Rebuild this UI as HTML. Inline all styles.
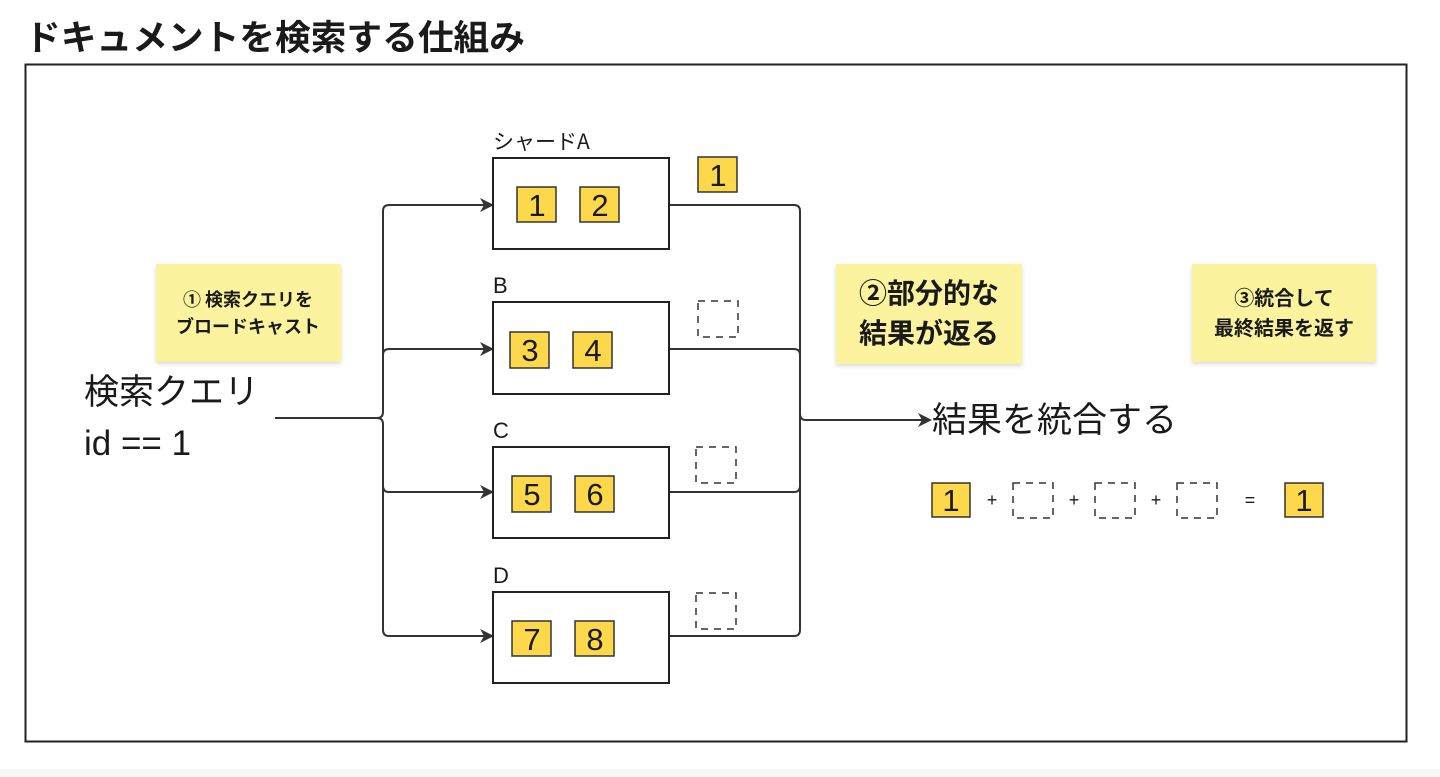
<!DOCTYPE html>
<html><head><meta charset="utf-8"><style>
html,body{margin:0;padding:0;background:#fff;}
svg{display:block;}
text{font-family:"Liberation Sans","Noto Sans CJK JP",sans-serif;fill:#1a1a1a;}
.jp{font-family:"Noto Sans CJK JP","Liberation Sans",sans-serif;}
</style></head><body>
<svg width="1440" height="777" viewBox="0 0 1440 777" xmlns="http://www.w3.org/2000/svg">
<defs>
<filter id="sh" x="-10%" y="-10%" width="120%" height="130%"><feDropShadow dx="0" dy="2" stdDeviation="2" flood-color="#000" flood-opacity="0.15"/></filter>
</defs>
<rect x="0" y="769" width="1440" height="8" fill="#f7f7f7"/>
<text class="jp" x="25" y="50" font-size="35" font-weight="bold" textLength="500" lengthAdjust="spacingAndGlyphs">ドキュメントを検索する仕組み</text>
<rect x="25.5" y="64.5" width="1381" height="677" fill="none" stroke="#222" stroke-width="2"/>

<!-- stickies -->
<rect x="156" y="264" width="185" height="98" fill="#fbf39e" filter="url(#sh)"/>
<text class="jp" x="248" y="306" font-size="18" font-weight="bold" text-anchor="middle">① 検索クエリを</text>
<text class="jp" x="248" y="333" font-size="18" font-weight="bold" text-anchor="middle">ブロードキャスト</text>
<rect x="836" y="264" width="186" height="100" fill="#fbf39e" filter="url(#sh)"/>
<text class="jp" x="929" y="303" font-size="28" font-weight="bold" text-anchor="middle">②部分的な</text>
<text class="jp" x="929" y="343" font-size="28" font-weight="bold" text-anchor="middle">結果が返る</text>
<rect x="1192" y="264" width="184" height="98" fill="#fbf39e" filter="url(#sh)"/>
<text class="jp" x="1284" y="305" font-size="20" font-weight="bold" text-anchor="middle">③統合して</text>
<text class="jp" x="1284" y="335" font-size="20" font-weight="bold" text-anchor="middle">最終結果を返す</text>

<!-- query -->
<text class="jp" x="84" y="404" font-size="35">検索クエリ</text>
<text x="84" y="455" font-size="35">id == 1</text>

<!-- connectors -->
<g fill="none" stroke="#333" stroke-width="2">
<path d="M275,418 H377 Q383,418 383,412 V211 Q383,205 389,205 H484"/>
<path d="M383,355 Q383,349 389,349 H484"/>
<path d="M377,418 Q383,418 383,424 V486 Q383,492 389,492 H484"/>
<path d="M383,486 V630 Q383,636 389,636 H484"/>
<path d="M669,205 H794 Q800,205 800,211 V630 Q800,636 794,636 H669"/>
<path d="M669,349 H794 Q800,349 800,355"/>
<path d="M669,492 H794 Q800,492 800,486"/>
<path d="M800,414 Q800,420 806,420 H922"/>
</g>
<g fill="#333">
<path d="M494,205 L480,198 L484,205 L480,212 z"/>
<path d="M494,349 L480,342 L484,349 L480,356 z"/>
<path d="M494,492 L480,485 L484,492 L480,499 z"/>
<path d="M494,636 L480,629 L484,636 L480,643 z"/>
<path d="M932,420 L918,413 L922,420 L918,427 z"/>
</g>

<!-- shards -->
<g font-size="22">
<text x="493" y="149" class="jp" font-size="21">シャードA</text>
<text x="493" y="293">B</text>
<text x="493" y="438">C</text>
<text x="493" y="583">D</text>
</g>
<g fill="#fff" stroke="#222" stroke-width="2">
<rect x="493" y="158" width="176" height="91"/>
<rect x="493" y="302" width="176" height="92"/>
<rect x="493" y="447" width="176" height="91"/>
<rect x="493" y="592" width="176" height="91"/>
</g>
<g fill="#fdd84a" stroke="#333" stroke-width="1.5">
<rect x="517" y="187" width="39" height="35"/><rect x="580" y="187" width="39" height="35"/>
<rect x="510" y="332" width="39" height="36"/><rect x="573" y="332" width="39" height="36"/>
<rect x="512" y="476" width="39" height="36"/><rect x="575" y="476" width="39" height="36"/>
<rect x="512" y="621" width="39" height="35"/><rect x="575" y="621" width="39" height="35"/>
<rect x="698" y="157" width="39" height="35"/>
<rect x="932" y="483" width="38" height="34"/>
<rect x="1285" y="483" width="38" height="34"/>
</g>
<g font-size="31" text-anchor="middle">
<text x="537" y="216">1</text><text x="600" y="216">2</text>
<text x="530" y="361">3</text><text x="593" y="361">4</text>
<text x="532" y="505">5</text><text x="595" y="505">6</text>
<text x="532" y="650">7</text><text x="595" y="650">8</text>
<text x="718" y="186">1</text>
<text x="951" y="511">1</text>
<text x="1304" y="511">1</text>
</g>
<g fill="none" stroke="#333" stroke-width="1.5" stroke-dasharray="7,6">
<rect x="698" y="301" width="40" height="36"/>
<rect x="696" y="447" width="40" height="36"/>
<rect x="696" y="593" width="40" height="36"/>
<rect x="1013" y="483" width="40" height="35"/>
<rect x="1095" y="483" width="40" height="35"/>
<rect x="1177" y="483" width="40" height="35"/>
</g>
<g font-size="18" text-anchor="middle">
<text x="992" y="506">+</text><text x="1074" y="506">+</text><text x="1156" y="506">+</text><text x="1250" y="506">=</text>
</g>
<text class="jp" x="932" y="432" font-size="35">結果を統合する</text>
</svg>
</body></html>
